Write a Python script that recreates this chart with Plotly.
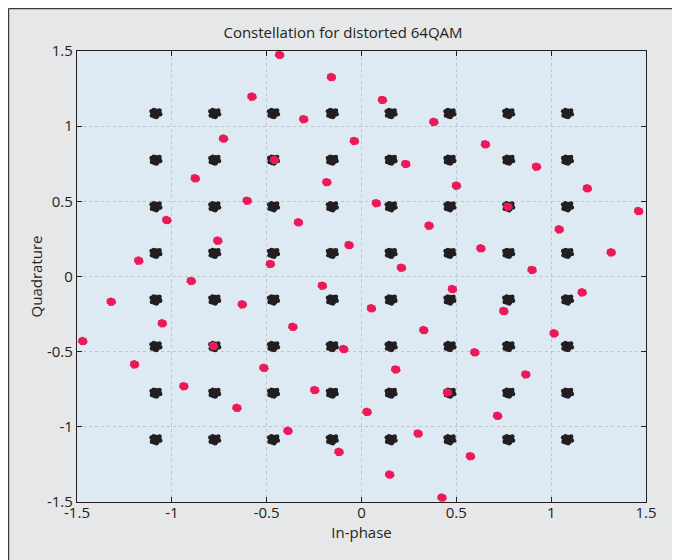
import plotly.graph_objects as go

# Ideal 64QAM levels (black clusters)
qam_levels = [-1.085, -0.775, -0.465, -0.155, 0.155, 0.465, 0.775, 1.085]

# Distorted constellation points (red clusters)
red_i = [-0.431, -0.158, -0.577, -0.304, -0.727, -0.037, -0.458, -0.876, -0.182, -0.602,
         -1.026, -0.332, -0.757, -0.065, -1.174, -0.480, -0.897,
         0.111, 0.382, 0.654, 0.234, 0.923, 0.501, 1.191, 0.079, 0.772, 1.462,
         0.357, 1.043, 0.630, 1.317, 0.211, 0.900,
         -0.206, -1.319, -0.628, -1.050, -0.361, -1.469, -0.779, -0.093, -1.196, -0.514,
         -0.936, -0.246, -0.656, 0.030, -0.387, -0.118,
         0.480, 1.164, 0.053, 0.751, 0.329, 1.016, 0.598, 0.181, 0.867, 0.454,
         0.718, 0.299, 0.575, 0.149, 0.425]
red_q = [1.474, 1.326, 1.196, 1.046, 0.917, 0.901, 0.775, 0.653, 0.627, 0.504,
         0.375, 0.360, 0.238, 0.209, 0.105, 0.083, -0.030,
         1.174, 1.028, 0.879, 0.748, 0.730, 0.604, 0.586, 0.487, 0.464, 0.435,
         0.338, 0.313, 0.187, 0.160, 0.058, 0.043,
         -0.062, -0.168, -0.186, -0.312, -0.335, -0.430, -0.463, -0.483, -0.585, -0.608,
         -0.730, -0.756, -0.874, -0.901, -1.027, -1.167,
         -0.084, -0.106, -0.212, -0.230, -0.357, -0.379, -0.505, -0.619, -0.652, -0.772,
         -0.927, -1.045, -1.196, -1.318, -1.471]

# Hand-read scatter of the noisy samples inside one cluster
black_dx = [-0.022, -0.010, 0.004, 0.018, -0.016, 0.000, 0.013, 0.024, -0.007, 0.009, -0.020, 0.004, 0.020, -0.012]
black_dy = [0.014, 0.022, 0.018, 0.010, -0.004, 0.002, -0.002, -0.006, -0.020, -0.016, -0.014, -0.024, 0.020, 0.006]
red_dx = [-0.012, -0.002, 0.010, -0.014, 0.002, 0.013, -0.006, 0.006]
red_dy = [0.010, 0.014, 0.008, -0.002, 0.000, -0.004, -0.013, -0.012]

tick_vals = [-1.5, -1, -0.5, 0, 0.5, 1, 1.5]
tick_text = ["-1.5", "-1", "-0.5", "0", "0.5", "1", "1.5"]

bx, by = [], []
for q in qam_levels:
    for i in qam_levels:
        for dx, dy in zip(black_dx, black_dy):
            bx.append(i + dx)
            by.append(q + dy)

rx, ry = [], []
for i, q in zip(red_i, red_q):
    for dx, dy in zip(red_dx, red_dy):
        rx.append(i + dx)
        ry.append(q + dy)

fig = go.Figure()
fig.add_trace(go.Scatter(x=bx, y=by, mode="markers",
                         marker=dict(color="#231f20", size=4.5, line=dict(width=0)),
                         hoverinfo="skip", showlegend=False))
fig.add_trace(go.Scatter(x=rx, y=ry, mode="markers",
                         marker=dict(color="#ec1a5a", size=4.5, line=dict(width=0)),
                         hoverinfo="skip", showlegend=False))

# Figure sits at page offset (8, 8) because of the default body margin
W, H = 670, 552
L, R, T, B = 69, 32, 43, 58
pw, ph = W - L - R, H - T - B

def px(p):
    return (p - L) / pw

def py(p):
    return (H - B - p) / ph

FONT = "Open Sans"
axis_common = dict(
    range=[-1.5, 1.5], tickvals=tick_vals, ticktext=tick_text,
    showline=True, linecolor="#231f20", linewidth=1.2, mirror="ticks",
    ticks="inside", ticklen=5, tickcolor="#231f20", tickwidth=1,
    showgrid=True, gridcolor="#bfc5ca", griddash="dot", gridwidth=1,
    zeroline=False, tickfont=dict(size=15, color="#231f20", family=FONT),
    fixedrange=True, automargin=False,
)

fig.update_layout(
    width=W, height=H,
    margin=dict(l=L, r=R, t=T, b=B, autoexpand=False),
    paper_bgcolor="#e6e7e8",
    plot_bgcolor="#ddeaf3",
    font=dict(family=FONT, color="#231f20", size=15),
    title=dict(text="Constellation for distorted 64QAM", x=px(353.5), xanchor="center",
               y=1 - 25 / H, yanchor="middle", font=dict(size=15)),
    xaxis=dict(axis_common, ticklabelstandoff=-3,
               title=dict(text="In-phase", standoff=1, font=dict(size=15))),
    yaxis=dict(axis_common, title=dict(text="Quadrature", standoff=0, font=dict(size=15))),
    shapes=[
        dict(type="line", xref="paper", yref="paper", x0=px(0.6), x1=px(0.6), y0=py(H + 5), y1=py(0.6),
             line=dict(color="#3a3a3a", width=1.2), layer="above"),
        dict(type="line", xref="paper", yref="paper", x0=px(0.6), x1=px(W - 1.4), y0=py(0.6), y1=py(0.6),
             line=dict(color="#3a3a3a", width=1.2), layer="above"),
        dict(type="line", xref="paper", yref="paper", x0=px(W - 1.4), x1=px(W - 1.4), y0=py(H + 5), y1=py(0.6),
             line=dict(color="#3a3a3a", width=1.2), layer="above"),
    ],
)

fig.write_html("out.html")
